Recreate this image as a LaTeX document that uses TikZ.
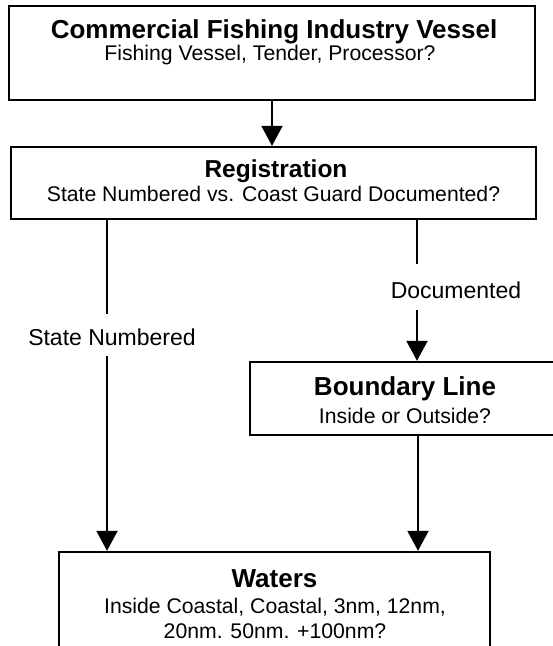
\documentclass[tikz,border=0pt]{standalone}
\usepackage{fontspec}
\setmainfont{Liberation Sans}
\usetikzlibrary{arrows.meta}
\begin{document}
\begin{tikzpicture}[x=1pt,y=-1pt,
 box/.style={draw, line width=2.4pt, rectangle, inner sep=0pt},
 ttl/.style={font=\fontsize{26}{30}\selectfont\bfseries, inner sep=0pt, anchor=base},
 sub/.style={font=\fontsize{21.2}{26}\selectfont, inner sep=0pt, anchor=base},
 lbl/.style={font=\fontsize{23}{27}\selectfont, inner sep=0pt, anchor=base},
 link/.style={line width=2pt},
 arr/.style={line width=2pt, -{Triangle[width=21pt,length=20pt]}}
]
\useasboundingbox (0,0) rectangle (553,646);
% boxes
\node[box, minimum width=526pt, minimum height=94pt] (top) at (272,53) {};
\node[box, minimum width=525pt, minimum height=72pt] (reg) at (273.5,183) {};
\node[box, minimum width=310pt, minimum height=73pt] (bnd) at (405,398.5) {};
\node[box, minimum width=431pt, minimum height=110pt] (wat) at (274.5,607) {};
% texts
\node[ttl] (t1) at (274,38) {Commercial Fishing Industry Vessel};
\node[sub] (s1) at (270,60) {Fishing Vessel, Tender, Processor?};
\node[ttl, font=\fontsize{24.5}{28}\selectfont\bfseries] (t2) at (276,177) {Registration};
\node[sub] (s2) at (273.5,201) {State Numbered vs. Coast Guard Documented?};
\node[ttl] (t3) at (405,395) {Boundary Line};
\node[sub] (s3) at (405,423) {Inside or Outside?};
\node[ttl] (t4) at (274.5,587) {Waters};
\node[sub] (s4a) at (275,613) {Inside Coastal, Coastal, 3nm, 12nm,};
\node[sub] (s4b) at (275,638) {20nm. 50nm. +100nm?};
\node[lbl] (ldoc) at (456,298) {Documented};
\node[lbl] (lsn) at (112,345) {State Numbered};
% connector helper coordinates
\coordinate (da) at (417,264);
\coordinate (db) at (417,310);
\coordinate (sa) at (107,314);
\coordinate (sb) at (107,356);
\coordinate (bx) at (418,0);
% connectors
\draw[arr] (top.south) -- (top.south |- reg.north);
\draw[link] (reg.south -| da) -- (da);
\draw[arr] (db) -- (bnd.north -| db);
\draw[link] (reg.south -| sa) -- (sa);
\draw[arr] (sb) -- (wat.north -| sb);
\draw[arr] (bnd.south -| bx) -- (wat.north -| bx);
\end{tikzpicture}
\end{document}
